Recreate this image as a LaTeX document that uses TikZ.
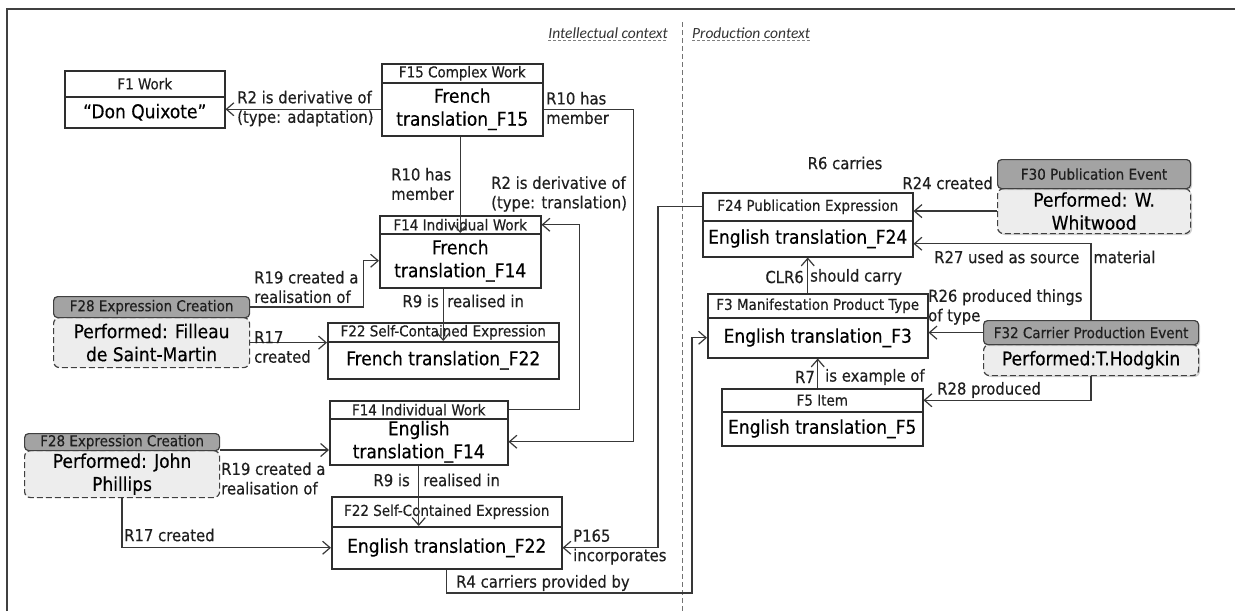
\documentclass[tikz,border=0pt]{standalone}
\usepackage{fontspec}
\setmainfont{DejaVu Sans Condensed}[FakeBold=0.35]
\newfontfamily\ctxfont{Carlito}
\usetikzlibrary{arrows.meta,shadows}
\newcommand{\gap}{\hspace{4.5pt}}

\begin{document}
\begin{tikzpicture}[x=1pt,y=-1pt]
\tikzset{
  ink/.style={draw=black!82, line width=1.5pt},
  hd/.style={ink, fill=white, anchor=north west, inner sep=0pt,
    font=\fontsize{15}{17}\selectfont, text=black!88},
  bd/.style={ink, fill=white, anchor=north west, inner sep=0pt, align=center,
    font=\fontsize{19}{23}\selectfont, text=black},
  evh/.style={draw=black!75, line width=1.2pt, fill=black!36, rounded corners=4pt,
    anchor=north west, inner sep=0pt, font=\fontsize{15}{17}\selectfont, text=black!88},
  evb/.style={draw=black!75, line width=1.2pt, dash pattern=on 6pt off 3pt, fill=black!7,
    rounded corners=6pt, anchor=north west, inner sep=0pt, align=center,
    font=\fontsize{19}{23}\selectfont, text=black},
  evshade/.style={drop shadow={shadow xshift=1.5pt, shadow yshift=-1.5pt, opacity=.35}},
  conn/.style={draw=black!78, line width=1.4pt,
    -{Straight Barb[length=7.5pt,width=13pt,line width=1.2pt]}},
  lbl/.style={inner sep=0pt, align=left, font=\fontsize{16.5}{19.5}\selectfont, text=black!88},
  ctx/.style={inner sep=0pt, font=\ctxfont\itshape\fontsize{15.5}{17}\selectfont, text=black!80},
}
\useasboundingbox (0,0) rectangle (1235,611);
\fill[white] (0,0) rectangle (1235,611);

% frame and context divider
\draw[black!75, line width=1.5pt] (7,611) -- (7,9) -- (1235,9);
\draw[black!55, line width=0.9pt, dash pattern=on 5pt off 3pt] (682,22) -- (682,611);
\node[ctx, anchor=east] (intl) at (668,33) {Intellectual context};
\node[ctx, anchor=west] (prod) at (692,33) {Production context};
\draw[black!50, line width=0.8pt, dash pattern=on 3pt off 2pt]
  ([yshift=-2.5pt]intl.base west) -- ([yshift=-2.5pt]intl.base east);
\draw[black!50, line width=0.8pt, dash pattern=on 3pt off 2pt]
  ([yshift=-2.5pt]prod.base west) -- ([yshift=-2.5pt]prod.base east);

% ---------- works and expressions ----------
\node[hd, minimum width=160pt, minimum height=26pt] (f1h) at (64,70) {F1 Work};
\node[bd, minimum width=160pt, minimum height=31pt] (f1) at (64,96) {“Don Quixote”};

\node[hd, minimum width=161pt, minimum height=19pt] (f15h) at (381,63) {F15 Complex Work};
\node[bd, minimum width=161pt, minimum height=53pt] (f15) at (381,82) {French\\translation\_F15};

\node[hd, minimum width=161pt, minimum height=18pt] (f14frh) at (379,215) {F14 Individual\gap Work};
\node[bd, minimum width=161pt, minimum height=54pt] (f14fr) at (379,233) {French\\translation\_F14};

\node[hd, minimum width=231pt, minimum height=19pt] (f22frh) at (327,322) {F22 Self-Contained\gap Expression};
\node[bd, minimum width=231pt, minimum height=37pt] (f22fr) at (327,341) {French translation\_F22};

\node[hd, minimum width=178pt, minimum height=18pt] (f14enh) at (329,400) {F14 Individual\gap Work};
\node[bd, minimum width=178pt, minimum height=46pt] (f14en) at (329,418) {English\\translation\_F14};

\node[hd, minimum width=230pt, minimum height=30pt] (f22enh) at (331,496) {F22 Self-Contained\gap Expression};
\node[bd, minimum width=230pt, minimum height=42pt] (f22en) at (331,526) {English translation\_F22};

% ---------- production side ----------
\node[hd, minimum width=210pt, minimum height=28pt] (f24h) at (702,192) {F24 Publication\gap Expression};
\node[bd, minimum width=210pt, minimum height=36pt] (f24) at (702,220) {English translation\_F24};

\node[hd, minimum width=220pt, minimum height=24pt] (f3h) at (707,293) {F3 Manifestation Product Type};
\node[bd, minimum width=220pt, minimum height=40pt] (f3) at (707,317) {English translation\_F3};

\node[hd, minimum width=201pt, minimum height=23pt] (f5h) at (721,388) {F5 Item};
\node[bd, minimum width=201pt, minimum height=34pt] (f5) at (721,411) {English translation\_F5};

% ---------- events ----------
\node[evb, minimum width=196pt, minimum height=50pt] (f28a) at (53,317) {Performed: Filleau\\de Saint-Martin};
\node[evh, minimum width=196pt, minimum height=21pt] (f28ah) at (53,296) {F28 Expression Creation};

\node[evb, minimum width=195pt, minimum height=47pt] (f28b) at (24,450) {Performed: John\\Phillips};
\node[evh, minimum width=195pt, minimum height=17pt] (f28bh) at (24,433) {F28 Expression Creation};

\node[evb, evshade, minimum width=193pt, minimum height=45pt] (f30) at (997,188) {Performed: W.\\Whitwood};
\node[evh, evshade, minimum width=193pt, minimum height=29pt] (f30h) at (997,159) {F30 Publication\gap Event};

\node[evb, evshade, minimum width=215pt, minimum height=31pt] (f32) at (983,344) {Performed:T.Hodgkin};
\node[evh, evshade, minimum width=215pt, minimum height=24pt] (f32h) at (983,320) {F32 Carrier\gap Production\gap Event};

% ---------- connectors ----------
\coordinate (r4c) at (692,593);

\draw[conn] (f15.west) -- (f15.west -| f1.east);
\draw[conn] (f14fr.north |- f15.south) -- (f14fr.north);
\draw[conn] (f15.east) -- ++(90,0) |- (f14en.east);
\draw[conn] (f14enh.east) -- ++(71,0) |- (f14frh.east);
\draw[conn] (f28ah.east) -- ++(113,0) |- (f14fr.west);
\draw[conn] (f28a.east) -- (f28a.east -| f22fr.west);
\draw[conn] (f22fr.north |- f14fr.south) -- (f22fr.north);
\draw[conn] (f14en.south) -- (f14en.south |- f22en.north);
\draw[conn] (f28b.north east) -- (f28b.north east -| f14en.west);
\draw[conn] (f28b.south) |- (f22en.west);
\draw[conn] (f24h.west) -- ++(-44,0) |- (f22en.east);
\draw[conn] (f22en.south) |- (r4c) |- (f3.west);
\draw[conn] (f30.west) -- (f30.west -| f24h.east);
\draw[conn] (f32h.north) |- ([yshift=-5pt]f24.east);
\draw[conn] (f24.south |- f3h.north) -- (f24.south);
\draw[conn] (f32h.west) -- (f32h.west -| f3.east);
\draw[conn] (f3.south |- f5h.north) -- (f3.south);
\draw[conn] (f32.south) |- (f5h.east);

% ---------- connector labels ----------
\node[lbl, anchor=west] (l1) at (237,108.5) {R2 is derivative of\\(type: adaptation)};
\node[lbl, anchor=west] (l2) at (391,184) {R10 has\\member};
\node[lbl, anchor=west] (l3) at (546,108) {R10 has\\member};
\node[lbl, anchor=west] (l4) at (491,194) {R2 is derivative of\\(type: translation)};
\node[lbl, anchor=west] (l5) at (254,287) {R19 created a\\realisation of};
\node[lbl, anchor=west] (l6) at (254,347) {R17\\created};
\node[lbl, anchor=east] (l7a) at (439,301) {R9 is};
\node[lbl, anchor=west] (l7b) at (447,301) {realised in};
\node[lbl, anchor=east] (l8a) at (410,480) {R9 is};
\node[lbl, anchor=west] (l8b) at (423,480) {realised in};
\node[lbl, anchor=west] (l9) at (221,478.5) {R19 created a\\realisation of};
\node[lbl, anchor=west] (l10) at (124,535) {R17 created};
\node[lbl, anchor=west] (l11) at (573,547) {P165\\incorporates};
\node[lbl, anchor=west] (l12) at (456,583) {R4 carriers provided by};
\node[lbl] (l13) at (845,163) {R6 carries};
\node[lbl, anchor=east] (l14) at (993,183) {R24 created};
\node[lbl, anchor=west] (l15) at (934,257) {R27 used as source\ \ \ material};
\node[lbl, anchor=east] (l16a) at (804,277) {CLR6};
\node[lbl, anchor=west] (l16b) at (810,277) {should carry};
\node[lbl, anchor=west] (l17) at (928,307) {R26 produced things\\of type};
\node[lbl, anchor=east] (l18a) at (815,377) {R7};
\node[lbl, anchor=west] (l18b) at (825,377) {is example of};
\node[lbl, anchor=west] (l19) at (937,390) {R28 produced};
\end{tikzpicture}
\end{document}
